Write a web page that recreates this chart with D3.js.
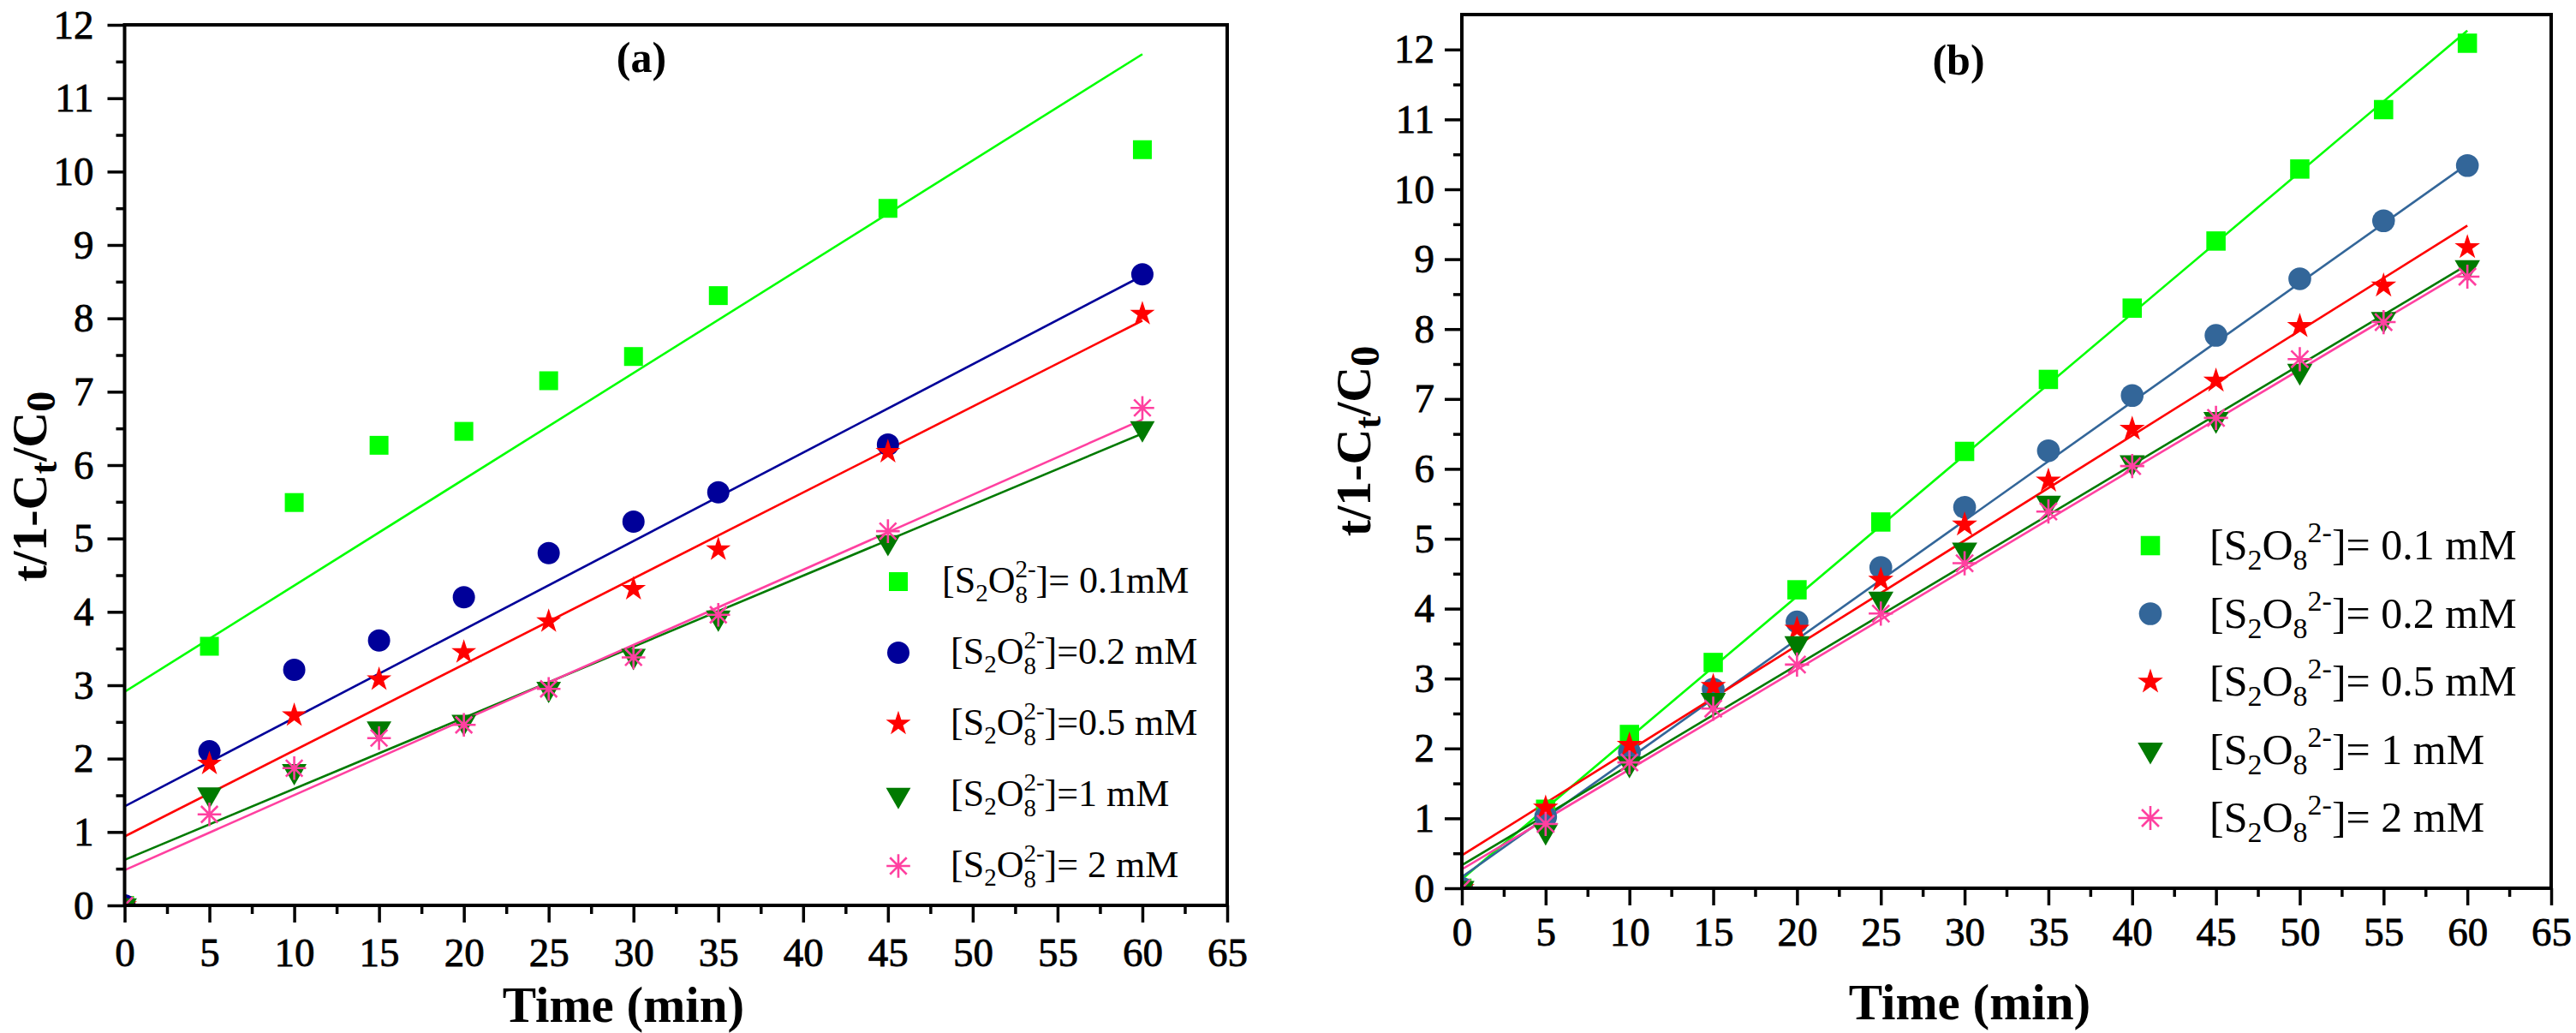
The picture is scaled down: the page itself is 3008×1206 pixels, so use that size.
<!DOCTYPE html>
<html><head><meta charset="utf-8">
<script src="https://cdn.jsdelivr.net/npm/d3@7"></script>
<style>
body{margin:0;background:#fff}
svg text{font-family:"Liberation Serif","Tinos","Times New Roman","DejaVu Serif",serif;white-space:pre;fill:#000}
</style></head>
<body><svg id="chart" width="3008" height="1206"></svg>
<script>
// ---------------- DATA ----------------
const timeA = [0, 5, 10, 15, 20, 25, 30, 35, 45, 60];
const a_s01 = [0, 3.53, 5.49, 6.27, 6.46, 7.15, 7.48, 8.31, 9.50, 10.30];
const a_s02 = [0, 2.10, 3.21, 3.61, 4.20, 4.80, 5.23, 5.63, 6.28, 8.60];
const a_s05 = [0, 1.93, 2.59, 3.08, 3.45, 3.87, 4.31, 4.85, 6.18, 8.06];
const a_s1  = [0, 1.51, 1.83, 2.41, 2.50, 2.95, 3.40, 3.92, 4.95, 6.50];
const a_s2  = [0, 1.24, 1.87, 2.28, 2.46, 2.95, 3.38, 3.96, 5.10, 6.78];
const a_fitStart = [2.91, 1.35, 0.94, 0.62, 0.48];
const a_fitEnd   = [11.60, 8.58, 7.97, 6.43, 6.62];

const timeB = [0, 5, 10, 15, 20, 25, 30, 35, 40, 45, 50, 55, 60];
const b_s01 = [0, 1.13, 2.20, 3.23, 4.27, 5.24, 6.25, 7.28, 8.30, 9.26, 10.29, 11.14, 12.09];
const b_s02 = [0, 1.02, 1.95, 2.85, 3.81, 4.59, 5.45, 6.26, 7.05, 7.91, 8.72, 9.55, 10.34];
const b_s05 = [0, 1.15, 2.05, 2.89, 3.71, 4.41, 5.20, 5.83, 6.57, 7.26, 8.04, 8.62, 9.17];
const b_s1  = [0, 0.82, 1.78, 2.69, 3.50, 4.14, 4.84, 5.51, 6.09, 6.71, 7.40, 8.14, 8.88];
const b_s2  = [0, 0.92, 1.80, 2.57, 3.20, 3.93, 4.65, 5.39, 6.04, 6.73, 7.57, 8.10, 8.75];
const b_fitStart = [0.13, 0.16, 0.47, 0.33, 0.27];
const b_fitEnd   = [12.27, 10.36, 9.48, 8.92, 8.85];

const fitX = [0, 60];

const xTickValues = [0, 5, 10, 15, 20, 25, 30, 35, 40, 45, 50, 55, 60, 65];
const xMinorValues = [2.5, 7.5, 12.5, 17.5, 22.5, 27.5, 32.5, 37.5, 42.5, 47.5, 52.5, 57.5, 62.5];
const yTickValues = [0, 1, 2, 3, 4, 5, 6, 7, 8, 9, 10, 11, 12];
const yMinorValues = [0.5, 1.5, 2.5, 3.5, 4.5, 5.5, 6.5, 7.5, 8.5, 9.5, 10.5, 11.5];

const legendA = ["= 0.1mM", "=0.2 mM", "=0.5 mM", "=1 mM", "= 2 mM"];
const legendB = ["= 0.1 mM", "= 0.2 mM", "= 0.5 mM", "= 1 mM", "= 2 mM"];

const colorsA = ["#00ff00", "#000099", "#ff0000", "#007a00", "#ff40a0"];
const colorsB = ["#00ff00", "#336699", "#ff0000", "#007a00", "#ff40a0"];
const shapes = ["square", "circle", "star", "triangle", "asterisk"];

const FONT = '"Liberation Serif","Tinos","Times New Roman","DejaVu Serif",serif';

// ---------------- SYMBOLS ----------------
const symAsterisk = {draw(ctx, size){
  const r = Math.sqrt(size) / 2;
  for (let k = 0; k < 4; k++) {
    const a = k * Math.PI / 4;
    ctx.moveTo(-r * Math.cos(a), -r * Math.sin(a));
    ctx.lineTo(r * Math.cos(a), r * Math.sin(a));
  }
}};
const symbolSizes = {square: 484, circle: 530, star: 260, triangle: 360, asterisk: 760};
function symbolPath(shape, sc) {
  const s = d3.symbol().size(symbolSizes[shape] * sc);
  if (shape === "square") return s.type(d3.symbolSquare)();
  if (shape === "circle") return s.type(d3.symbolCircle)();
  if (shape === "star") return s.type(d3.symbolStar)();
  if (shape === "triangle") return s.type(d3.symbolTriangle)();
  return s.type(symAsterisk)();
}
function drawMarker(g, shape, color, cx, cy, sc) {
  const p = g.append("path").attr("d", symbolPath(shape, sc));
  if (shape === "triangle") p.attr("transform", `translate(${cx},${cy}) rotate(180)`);
  else p.attr("transform", `translate(${cx},${cy})`);
  if (shape === "asterisk") p.attr("fill", "none").attr("stroke", color).attr("stroke-width", 2.6);
  else p.attr("fill", color);
}

// ---------------- PANELS ----------------
const panels = [
  {key: "a", title: "(a)", titleX: 749, titleY: 84,
   box: {l: 145.5, r: 1433, t: 29, b: 1057}, yMax: 12,
   time: timeA, series: [a_s01, a_s02, a_s05, a_s1, a_s2],
   fitStart: a_fitStart, fitEnd: a_fitEnd, colors: colorsA, msc: 1.0,
   xPad: 18, yPad: 16,
   xLabel: {x: 728, y: 1193}, yLabel: {x: 54, y: 568},
   legend: {labels: legendA, mx: 1049, tx: [1100, 1110, 1110, 1110, 1110], y0: 679, dy: 83, base: 13, fs: 44, ss: 29, stacked: true}},
  {key: "b", title: "(b)", titleX: 2287, titleY: 87,
   box: {l: 1707, r: 2979, t: 17, b: 1037}, yMax: 12.5,
   time: timeB, series: [b_s01, b_s02, b_s05, b_s1, b_s2],
   fitStart: b_fitStart, fitEnd: b_fitEnd, colors: colorsB, msc: 1.05,
   xPad: 14, yPad: 12,
   xLabel: {x: 2300, y: 1190}, yLabel: {x: 1600, y: 515},
   legend: {labels: legendB, mx: 2511, tx: [2580, 2580, 2580, 2580, 2580], y0: 637, dy: 79.5, base: 16, fs: 50, ss: 34, stacked: false}}
];

const svg = d3.select("#chart");
svg.append("rect").attr("width", 3008).attr("height", 1206).attr("fill", "#fff");

function richText(g, x, y, segs) {
  let cx = x, lastStart = x;
  segs.forEach(s => {
    const sx = s.stack ? lastStart : cx;
    const t = g.append("text").attr("x", sx).attr("y", y + (s.dy || 0))
      .style("font-family", FONT).style("font-size", s.size + "px").text(s.t);
    const w = t.node().getComputedTextLength();
    if (s.stack) cx = Math.max(cx, sx + w);
    else { lastStart = sx; cx = sx + w; }
  });
}

panels.forEach(P => {
  const {l, r, t, b} = P.box;
  const x = d3.scaleLinear().domain([0, 65]).range([l, r]);
  const y = d3.scaleLinear().domain([0, P.yMax]).range([b, t]);
  const g = svg.append("g");

  const clipId = "clip-" + P.key;
  svg.append("clipPath").attr("id", clipId).append("rect")
    .attr("x", l).attr("y", t).attr("width", r - l).attr("height", b - t);

  const line = d3.line().x(d => x(d[0])).y(d => y(d[1]));
  const plot = g.append("g").attr("clip-path", `url(#${clipId})`);
  P.series.forEach((s, i) => {
    plot.append("path").datum([[fitX[0], P.fitStart[i]], [fitX[1], P.fitEnd[i]]])
      .attr("d", line).attr("fill", "none").attr("stroke", P.colors[i]).attr("stroke-width", 2.6);
  });
  P.series.forEach((s, i) => {
    const mg = plot.append("g");
    s.forEach((v, j) => drawMarker(mg, shapes[i], P.colors[i], x(P.time[j]), y(v), P.msc));
  });

  const xa = g.append("g").attr("transform", `translate(0,${b})`)
    .call(d3.axisBottom(x).tickValues(xTickValues).tickSize(20).tickSizeOuter(0).tickPadding(P.xPad));
  const xm = g.append("g").attr("transform", `translate(0,${b})`)
    .call(d3.axisBottom(x).tickValues(xMinorValues).tickSize(10).tickSizeOuter(0).tickFormat(""));
  const ya = g.append("g").attr("transform", `translate(${l},0)`)
    .call(d3.axisLeft(y).tickValues(yTickValues).tickSize(20).tickSizeOuter(0).tickPadding(P.yPad));
  const ym = g.append("g").attr("transform", `translate(${l},0)`)
    .call(d3.axisLeft(y).tickValues(yMinorValues).tickSize(10).tickSizeOuter(0).tickFormat(""));
  [xa, xm, ya, ym].forEach(a => {
    a.attr("font-family", null);
    a.select(".domain").remove();
    a.selectAll("line").attr("stroke", "#000").attr("stroke-width", 3.5);
    a.selectAll("text").style("font-size", "47px").style("font-family", FONT)
      .attr("fill", "#000").attr("stroke", "#000").attr("stroke-width", 0.8);
  });
  g.append("rect").attr("x", l).attr("y", t).attr("width", r - l).attr("height", b - t)
    .attr("fill", "none").attr("stroke", "#000").attr("stroke-width", 4);

  g.append("text").attr("x", P.titleX).attr("y", P.titleY).attr("text-anchor", "middle")
    .style("font-family", FONT).style("font-size", "50px").style("font-weight", "bold").text(P.title);

  g.append("text").attr("x", P.xLabel.x).attr("y", P.xLabel.y).attr("text-anchor", "middle")
    .style("font-family", FONT).style("font-size", "59px").style("font-weight", "bold").text("Time (min)");

  // y title: measured and centred explicitly
  const yl = g.append("text").attr("text-anchor", "start")
    .style("font-family", FONT).style("font-size", "58px").style("font-weight", "bold");
  yl.append("tspan").text("t/1-C");
  yl.append("tspan").attr("dy", 12).style("font-size", "44px").text("t");
  yl.append("tspan").attr("dy", -12).text("/C");
  yl.append("tspan").attr("dy", 10).style("font-size", "48px").text("0");
  const len = yl.node().getComputedTextLength();
  yl.attr("transform", `translate(${P.yLabel.x},${P.yLabel.y + len / 2}) rotate(-90)`);

  const L = P.legend;
  const lg = g.append("g");
  L.labels.forEach((lab, i) => {
    const cy = L.y0 + i * L.dy;
    drawMarker(lg, shapes[i], P.colors[i], L.mx, cy, P.msc);
    const by = cy + L.base;
    let segs;
    if (L.stacked) {
      segs = [{t: "[S", size: L.fs}, {t: "2", size: L.ss, dy: 10}, {t: "O", size: L.fs},
              {t: "2-", size: L.ss, dy: -18}, {t: "8", size: L.ss, dy: 12, stack: true},
              {t: "]" + lab, size: L.fs}];
    } else {
      segs = [{t: "[S", size: L.fs}, {t: "2", size: L.ss, dy: 12}, {t: "O", size: L.fs},
              {t: "8", size: L.ss, dy: 12}, {t: "2-", size: L.ss, dy: -20},
              {t: "]" + lab, size: L.fs}];
    }
    richText(lg, L.tx[i], by, segs);
  });
});
</script></body></html>
